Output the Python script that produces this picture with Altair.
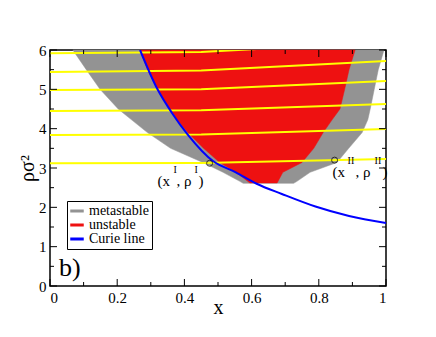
import altair as alt
import pandas as pd

FONT = "Liberation Serif, Times New Roman, Times, DejaVu Serif, serif"
W, H = 336, 236

# ---- data ----
# Curie line
curie_x = [0.268, 0.32, 0.363, 0.41, 0.486, 0.553, 0.615, 0.69, 0.79, 0.89, 1.0]
curie_y = [6.0, 5.0, 4.4, 3.85, 3.17, 2.89, 2.6, 2.34, 2.02, 1.78, 1.6]

# metastable region (left / right boundary at given densities)
meta_y = [2.61, 2.66, 2.89, 3.14, 3.5, 3.9, 4.23, 4.5, 5.0, 5.5, 6.0]
meta_xl = [0.575, 0.565, 0.515, 0.455, 0.359, 0.29, 0.242, 0.203, 0.149, 0.108, 0.068]
meta_xr = [0.725, 0.735, 0.774, 0.854, 0.889, 0.929, 0.946, 0.953, 0.965, 0.977, 0.994]

# unstable region
unst_y = [2.62, 2.89, 3.14, 3.5, 3.9, 4.23, 4.5, 5.0, 5.5, 6.0]
unst_xl = [0.595, 0.553, 0.505, 0.457, 0.41, 0.378, 0.355, 0.32, 0.29, 0.268]
unst_xr = [0.676, 0.693, 0.75, 0.785, 0.813, 0.84, 0.863, 0.877, 0.89, 0.908]

# tie lines (yellow): y at x = 0, 0.45, 1
tie_x = [0.0, 0.45, 1.0]
tie_y0 = [5.92, 5.44, 4.98, 4.45, 3.84, 3.12]
tie_ym = [5.95, 5.48, 5.0, 4.47, 3.85, 3.13]
tie_y1 = [6.2, 5.72, 5.21, 4.63, 3.99, 3.23]

# coexistence points
pt_x = [0.475, 0.847]
pt_y = [3.12, 3.20]

# labels
labI_pos = (0.32, 2.55)
labII_pos = (0.841, 2.77)
labI_parts = [("(x", 0, 0, 15), ("I", 16, -13, 10), (", ρ", 19, 0, 15), ("I", 37, -13, 10), (")", 41, 0, 15)]
labII_parts = [("(x", 0, 0, 15), ("II", 15, -13, 10), (", ρ", 23, 0, 15), ("II", 42, -13, 10), (")", 50, 0, 15)]
panel_label = "b)"
panel_pos = (0.027, 0.25)

kinds = ["metastable", "unstable", "Curie line"]
kind_colors = ["#939393", "#ee1111", "#0000ff"]

x_major = [0, 0.2, 0.4, 0.6, 0.8, 1.0]
x_minor = [0.1, 0.3, 0.5, 0.7, 0.9]
y_major = [0, 1, 2, 3, 4, 5, 6]
y_minor = [0.5, 1.5, 2.5, 3.5, 4.5, 5.5]

# ---- tables ----
meta_df = pd.DataFrame({"y": meta_y, "xl": meta_xl, "xr": meta_xr, "kind": kinds[0]})
unst_df = pd.DataFrame({"y": unst_y, "xl": unst_xl, "xr": unst_xr, "kind": kinds[1]})
curie_df = pd.DataFrame({"x": curie_x, "y": curie_y, "kind": kinds[2]})
tie_rows = []
for i in range(len(tie_y0)):
    for xv, yv in zip(tie_x, [tie_y0[i], tie_ym[i], tie_y1[i]]):
        tie_rows.append({"line": i, "x": xv, "y": yv})
tie_df = pd.DataFrame(tie_rows)
pt_df = pd.DataFrame({"x": pt_x, "y": pt_y})

xs = alt.Scale(domain=[0, 1], nice=False, zero=False)
ys = alt.Scale(domain=[0, 6], nice=False, zero=False)
kscale = alt.Scale(domain=kinds, range=kind_colors)

x_axis = alt.Axis(values=x_major, format="~g", ticks=False, domain=False, grid=False,
                  labelFont=FONT, labelFontSize=15, labelPadding=4, labelColor="black",
                  title="x", titleFont=FONT, titleFontSize=20, titleFontWeight="normal",
                  titleY=27, titleBaseline="alphabetic", titleColor="black")
y_axis = alt.Axis(values=y_major, format="d", ticks=False, domain=False, grid=False,
                  labelFont=FONT, labelFontSize=15, labelPadding=4, labelColor="black",
                  title="ρσ²", titleFont=FONT, titleFontSize=20, titleFontWeight="normal",
                  titleX=-17, titleY=H / 2, titleBaseline="alphabetic", titleColor="black")

legend = alt.Legend(title=None, orient="none", legendX=17, legendY=151,
                    symbolType="M-1.5,0H1.5", symbolSize=81, symbolStrokeWidth=3,
                    labelFont=FONT, labelFontSize=14, labelColor="black", labelOffset=5,
                    strokeColor="black", fillColor="white", padding=3, rowPadding=0,
                    cornerRadius=0)


def X(field):
    return alt.X(field, scale=xs, axis=x_axis)


def Y(field):
    return alt.Y(field, scale=ys, axis=y_axis)


meta = alt.Chart(meta_df).mark_area(orient="horizontal", strokeWidth=0.5).encode(
    y=Y("y:Q"), x=X("xl:Q"), x2="xr:Q",
    fill=alt.Fill("kind:N", scale=kscale, legend=legend),
    stroke=alt.Stroke("kind:N", scale=kscale, legend=legend),
)
unst = alt.Chart(unst_df).mark_area(orient="horizontal", strokeWidth=0.5).encode(
    y=Y("y:Q"), x=X("xl:Q"), x2="xr:Q",
    fill=alt.Fill("kind:N", scale=kscale, legend=legend),
    stroke=alt.Stroke("kind:N", scale=kscale, legend=legend),
)
ties = alt.Chart(tie_df).mark_line(color="#ffff00", strokeWidth=2, clip=True).encode(
    x=X("x:Q"), y=Y("y:Q"), detail="line:N",
)
curie = alt.Chart(curie_df).mark_line(strokeWidth=2, interpolate="monotone", clip=True).encode(
    x=X("x:Q"), y=Y("y:Q"),
    stroke=alt.Stroke("kind:N", scale=kscale, legend=legend),
)
pts = alt.Chart(pt_df).mark_point(shape="circle", filled=False, color="black", size=36, strokeWidth=1).encode(
    x=X("x:Q"), y=Y("y:Q"),
)


def piece(pos, txt, dx, dy, size):
    df = pd.DataFrame({"x": [pos[0]], "y": [pos[1]]})
    return alt.Chart(df).mark_text(align="left", baseline="alphabetic", dx=dx, dy=dy,
                                   fontSize=size, font=FONT, color="black").encode(
        x=X("x:Q"), y=Y("y:Q"), text=alt.value(txt),
    )


texts = [piece(labI_pos, *p) for p in labI_parts] + [piece(labII_pos, *p) for p in labII_parts]
texts.append(piece(panel_pos, panel_label, 0, 0, 26))


def xticks(vals, length):
    df = pd.DataFrame({"v": vals})
    b = alt.Chart(df).mark_rule(color="black", strokeWidth=1).encode(
        x=X("v:Q"), y=alt.value(H), y2=alt.value(H - length))
    t = alt.Chart(df).mark_rule(color="black", strokeWidth=1).encode(
        x=X("v:Q"), y=alt.value(0), y2=alt.value(length))
    return [b, t]


def yticks(vals, length):
    df = pd.DataFrame({"v": vals})
    l = alt.Chart(df).mark_rule(color="black", strokeWidth=1).encode(
        y=Y("v:Q"), x=alt.value(0), x2=alt.value(length))
    r = alt.Chart(df).mark_rule(color="black", strokeWidth=1).encode(
        y=Y("v:Q"), x=alt.value(W), x2=alt.value(W - length))
    return [l, r]


tick_layers = xticks(x_major, 7) + xticks(x_minor, 4) + yticks(y_major, 7) + yticks(y_minor, 4)

chart = alt.layer(meta, unst, ties, curie, pts, *texts, *tick_layers).properties(
    width=W, height=H,
    autosize=alt.AutoSizeParams(type="none"),
    padding={"left": 42, "top": 42, "right": 42, "bottom": 40},
).configure(font=FONT).configure_view(stroke="black", strokeWidth=1.5)

chart.save("out.html", embed_options={"renderer": "svg", "actions": False})
